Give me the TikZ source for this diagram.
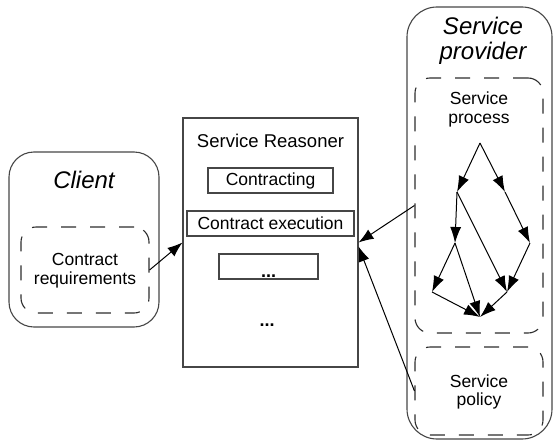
\documentclass[tikz,border=0pt]{standalone}
\usepackage{fontspec}
\setmainfont{Liberation Sans}
\usetikzlibrary{arrows.meta,calc}
\definecolor{boxgray}{RGB}{70,70,70}
\definecolor{dashgray}{RGB}{45,45,45}
\tikzset{
  outerbox/.style={draw=boxgray, line width=1.1pt, inner sep=0pt},
  dashbox/.style={draw=dashgray, line width=1.1pt, dash pattern=on 15pt off 14pt, rounded corners=15pt, inner sep=0pt},
  plainbox/.style={draw=boxgray, line width=1.1pt, inner sep=0pt},
  bodytxt/.style={font=\fontsize{17.5}{20}\selectfont, align=center, inner sep=0pt},
  titletxt/.style={font=\fontsize{24}{25}\selectfont\itshape, align=center, inner sep=0pt},
  arr/.style={draw=black, line width=1pt, -{Latex[length=15pt,width=11pt]}},
  garr/.style={draw=black, line width=1pt, -{Latex[length=16pt,width=11pt]}}
}
\begin{document}
\begin{tikzpicture}[x=1pt,y=-1pt]
\useasboundingbox (0,0) rectangle (553,441);
% Client
\node[outerbox, rounded corners=25pt, minimum width=150pt, minimum height=175pt] (client) at (84,239.5) {};
\node[titletxt, anchor=base] (clientT) at (84,188) {Client};
\node[dashbox, minimum width=128pt, minimum height=86pt] (req) at (85,270) {};
\node[bodytxt, anchor=base] (reqT1) at (85,265) {Contract};
\node[bodytxt, anchor=base] (reqT2) at (85,284) {requirements};
% Reasoner
\node[plainbox, minimum width=175pt, minimum height=249pt] (reasoner) at (270.5,242.5) {};
\node[font=\fontsize{18.5}{20}\selectfont, inner sep=0pt, anchor=base] (reasT) at (270.5,147) {Service Reasoner};
\node[plainbox, minimum width=125pt, minimum height=25pt, font=\fontsize{17.5}{20}\selectfont] (contracting) at (270.5,180.5) {Contracting};
\node[plainbox, minimum width=167pt, minimum height=25pt, font=\fontsize{17.5}{20}\selectfont] (exec) at (270.5,223.5) {Contract execution};
\node[plainbox, minimum width=99pt, minimum height=25pt] (dotsbox) at (268.5,266.5) {};
\node[bodytxt, font=\fontsize{18}{20}\selectfont\bfseries, anchor=base] (dots1) at (268.5,277) {...};
\node[bodytxt, font=\fontsize{18}{20}\selectfont\bfseries, anchor=base] (dots2) at (267,326) {...};
% Provider
\node[outerbox, rounded corners=30pt, minimum width=145pt, minimum height=432pt] (provider) at (479.5,223) {};
\node[titletxt, anchor=base] (provT1) at (483,35) {Service};
\node[titletxt, anchor=base] (provT2) at (483,60) {provider};
\node[dashbox, minimum width=128pt, minimum height=255pt] (process) at (479,205.5) {};
\node[bodytxt, anchor=base] (procT1) at (479,104) {Service};
\node[bodytxt, anchor=base] (procT2) at (479,123) {process};
\node[dashbox, minimum width=128pt, minimum height=88pt] (policy) at (479,391) {};
\node[bodytxt, anchor=base] (polT1) at (479,387) {Service};
\node[bodytxt, anchor=base] (polT2) at (479,405) {policy};
% process graph
\coordinate (A) at (480,143);
\coordinate (B) at (457,192);
\coordinate (C) at (505,192);
\coordinate (D) at (455,243);
\coordinate (E) at (530,243);
\coordinate (F) at (432,292);
\coordinate (G) at (507,292);
\coordinate (H) at (480,317);
\draw[garr] (A) -- (B);
\draw[garr] (A) -- (C);
\draw[garr] (B) -- (D);
\draw[garr] (C) -- (E);
\draw[garr] (B) -- (G);
\draw[garr] (D) -- (F);
\draw[garr] (D) -- (H);
\draw[garr] (E) -- (G);
\draw[garr] (F) -- (H);
\draw[garr] (G) -- (H);
% connectors
\draw[arr] (req.east) -- (reasoner.west);
\draw[arr] (process.west) -- (reasoner.east);
\draw[arr] (policy.west) -- ($(reasoner.east)+(0,4)$);
\end{tikzpicture}
\end{document}
